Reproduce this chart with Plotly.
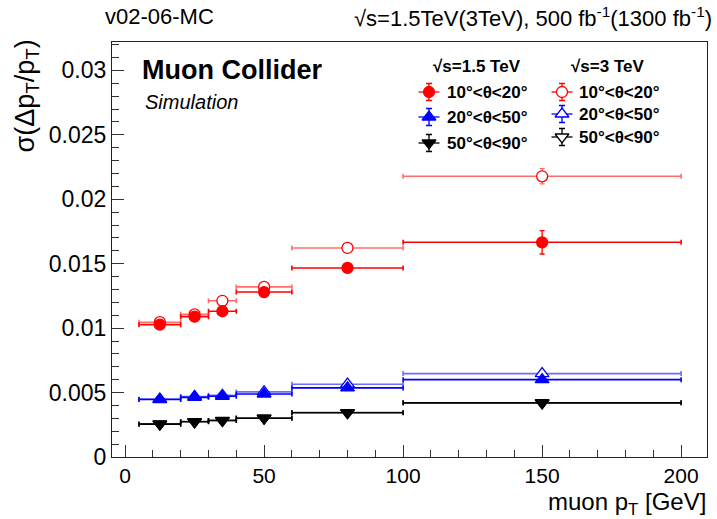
import plotly.graph_objects as go

# ---------------- data ----------------
pt_centers = [12.5, 25, 35, 50, 80, 150]
pt_halfwidth = [7.5, 5, 5, 10, 20, 50]

res15_10_20 = [0.01027, 0.01089, 0.01131, 0.01280, 0.01467, 0.01666]
err15_10_20 = [0.00012, 0.00010, 0.00010, 0.00010, 0.00012, 0.00091]
res3_10_20 = [0.01046, 0.01107, 0.01212, 0.01320, 0.01622, 0.02178]
err3_10_20 = [0.00010, 0.00010, 0.00010, 0.00010, 0.00012, 0.00059]

res15_20_50 = [0.00446, 0.00463, 0.00471, 0.00489, 0.00536, 0.00600]
err15_20_50 = [0.00008, 0.00008, 0.00008, 0.00008, 0.00008, 0.00012]
res3_20_50 = [0.00449, 0.00470, 0.00479, 0.00505, 0.00565, 0.00647]
err3_20_50 = [0.00008, 0.00008, 0.00008, 0.00008, 0.00008, 0.00010]

res15_50_90 = [0.00255, 0.00273, 0.00283, 0.00301, 0.00343, 0.00420]
err15_50_90 = [0.00006, 0.00006, 0.00006, 0.00006, 0.00006, 0.00010]
res3_50_90 = [0.00257, 0.00275, 0.00284, 0.00302, 0.00345, 0.00421]
err3_50_90 = [0.00006, 0.00006, 0.00006, 0.00006, 0.00006, 0.00008]

legend_labels = ["10°<θ<20°", "20°<θ<50°", "50°<θ<90°"]
header_15 = "√s=1.5 TeV"
header_3 = "√s=3 TeV"

# ---------------- layout geometry ----------------
W, H = 717, 519
L, R, T, B = 112, 707, 42, 457
PW, PH = R - L, B - T


def px(x):
    return (x - L) / PW


def py(y):
    return (B - y) / PH


FONT = "Liberation Sans, Arial, sans-serif"
RED = "#ff0000"
RED_L = "rgba(255,60,60,0.75)"
BLUE = "#0000ff"
BLUE_L = "rgba(60,60,255,0.75)"
BLACK = "#000000"
BLACK_L = "rgba(60,60,60,0.85)"

fig = go.Figure()


def add_series(y, ey, color, lcolor, symbol, filled, size):
    fig.add_trace(go.Scatter(
        x=pt_centers, y=y, mode="markers",
        marker=dict(symbol=symbol, size=size,
                    color=color if filled else "white",
                    line=dict(color=color, width=1.3)),
        error_x=dict(type="data", array=pt_halfwidth, color=lcolor,
                     thickness=1.6, width=2.5),
        error_y=dict(type="data", array=ey, color=lcolor,
                     thickness=1.3, width=2.5),
        showlegend=False, hoverinfo="skip",
    ))


# open (3 TeV) first, then filled (1.5 TeV)
add_series(res3_50_90, err3_50_90, BLACK, BLACK_L, "triangle-down", False, 12)
add_series(res15_50_90, err15_50_90, BLACK, BLACK, "triangle-down", True, 12)
add_series(res3_20_50, err3_20_50, BLUE, BLUE_L, "triangle-up", False, 12)
add_series(res15_20_50, err15_20_50, BLUE, BLUE, "triangle-up", True, 12)
add_series(res3_10_20, err3_10_20, RED, RED_L, "circle", False, 11)
add_series(res15_10_20, err15_10_20, RED, RED, "circle", True, 11)

# ---------------- legend (drawn on overlay axis) ----------------
col1_mx, col2_mx = 429, 562
col1_rows = [92, 117, 143]
col2_rows = [92, 114, 137]
col1_tx, col2_tx = 445, 577
styles = [(RED, "circle", 11), (BLUE, "triangle-up", 12), (BLACK, "triangle-down", 12)]

for (mx, rows, filled) in [(col1_mx, col1_rows, True), (col2_mx, col2_rows, False)]:
    for (c, sym, sz), ry in zip(styles, rows):
        fig.add_trace(go.Scatter(
            x=[px(mx)], y=[py(ry)], xaxis="x2", yaxis="y2", mode="markers",
            marker=dict(symbol=sym, size=sz, color=c if filled else "white",
                        line=dict(color=c, width=1.3)),
            error_x=dict(type="constant", value=10.5 / PW, color=c, thickness=1.3, width=0),
            error_y=dict(type="constant", value=8.5 / PH, color=c, thickness=1.3, width=3),
            showlegend=False, hoverinfo="skip",
        ))

annotations = []


def ann(text, x, y, size, xanchor="left", yanchor="middle", bold=False, italic=False, angle=0):
    if bold:
        text = "<b>" + text + "</b>"
    if italic:
        text = "<i>" + text + "</i>"
    annotations.append(dict(
        text=text, x=px(x), y=py(y), xref="paper", yref="paper",
        xanchor=xanchor, yanchor=yanchor, showarrow=False, textangle=angle,
        font=dict(family=FONT, size=size, color="black"),
    ))


ann(header_15, 477, 66, 17, xanchor="center", bold=True)
ann(header_3, 607, 67, 17, xanchor="center", bold=True)
for lab, ry in zip(legend_labels, col1_rows):
    ann(lab, col1_tx, ry, 17, bold=True)
for lab, ry in zip(legend_labels, col2_rows):
    ann(lab, col2_tx, ry, 17, bold=True)

ann("Muon Collider", 140, 70, 27, bold=True)
ann("Simulation", 143, 102, 20, italic=True)

ann("v02-06-MC", 103, 17, 22)
ann("√s=1.5TeV(3TeV), 500 fb<sup>-1</sup>(1300 fb<sup>-1</sup>)", 714, 17, 22, xanchor="right")

ann("muon p<sub>T</sub> [GeV]", 708, 503, 24, xanchor="right")
ann("σ(Δp<sub>T</sub>/p<sub>T</sub>)", 27, 38, 27, xanchor="center", yanchor="top", angle=-90)

fig.update_layout(
    width=W, height=H,
    margin=dict(l=L, r=W - R, t=T, b=H - B, pad=0),
    paper_bgcolor="white", plot_bgcolor="white",
    font=dict(family=FONT, size=22, color="black"),
    annotations=annotations,
    xaxis=dict(range=[-4.7, 209.3], showgrid=False, zeroline=False,
               showline=True, linecolor="#222", linewidth=1.2, mirror=True,
               ticks="inside", ticklen=12, tickcolor="#333", dtick=50, tick0=0,
               minor=dict(ticks="inside", ticklen=7, dtick=10, tickcolor="#333", showgrid=False),
               tickfont=dict(size=21)),
    yaxis=dict(range=[0, 0.0322], showgrid=False, zeroline=False,
               showline=True, linecolor="#222", linewidth=1.2, mirror=True,
               ticks="inside", ticklen=12, tickcolor="#333", dtick=0.005, tick0=0,
               tickformat="~g",
               minor=dict(ticks="inside", ticklen=7, dtick=0.001, tickcolor="#333", showgrid=False),
               tickfont=dict(size=23)),
    xaxis2=dict(range=[0, 1], overlaying="x", visible=False, fixedrange=True),
    yaxis2=dict(range=[0, 1], overlaying="y", visible=False, fixedrange=True),
)

fig.write_html("out.html")
